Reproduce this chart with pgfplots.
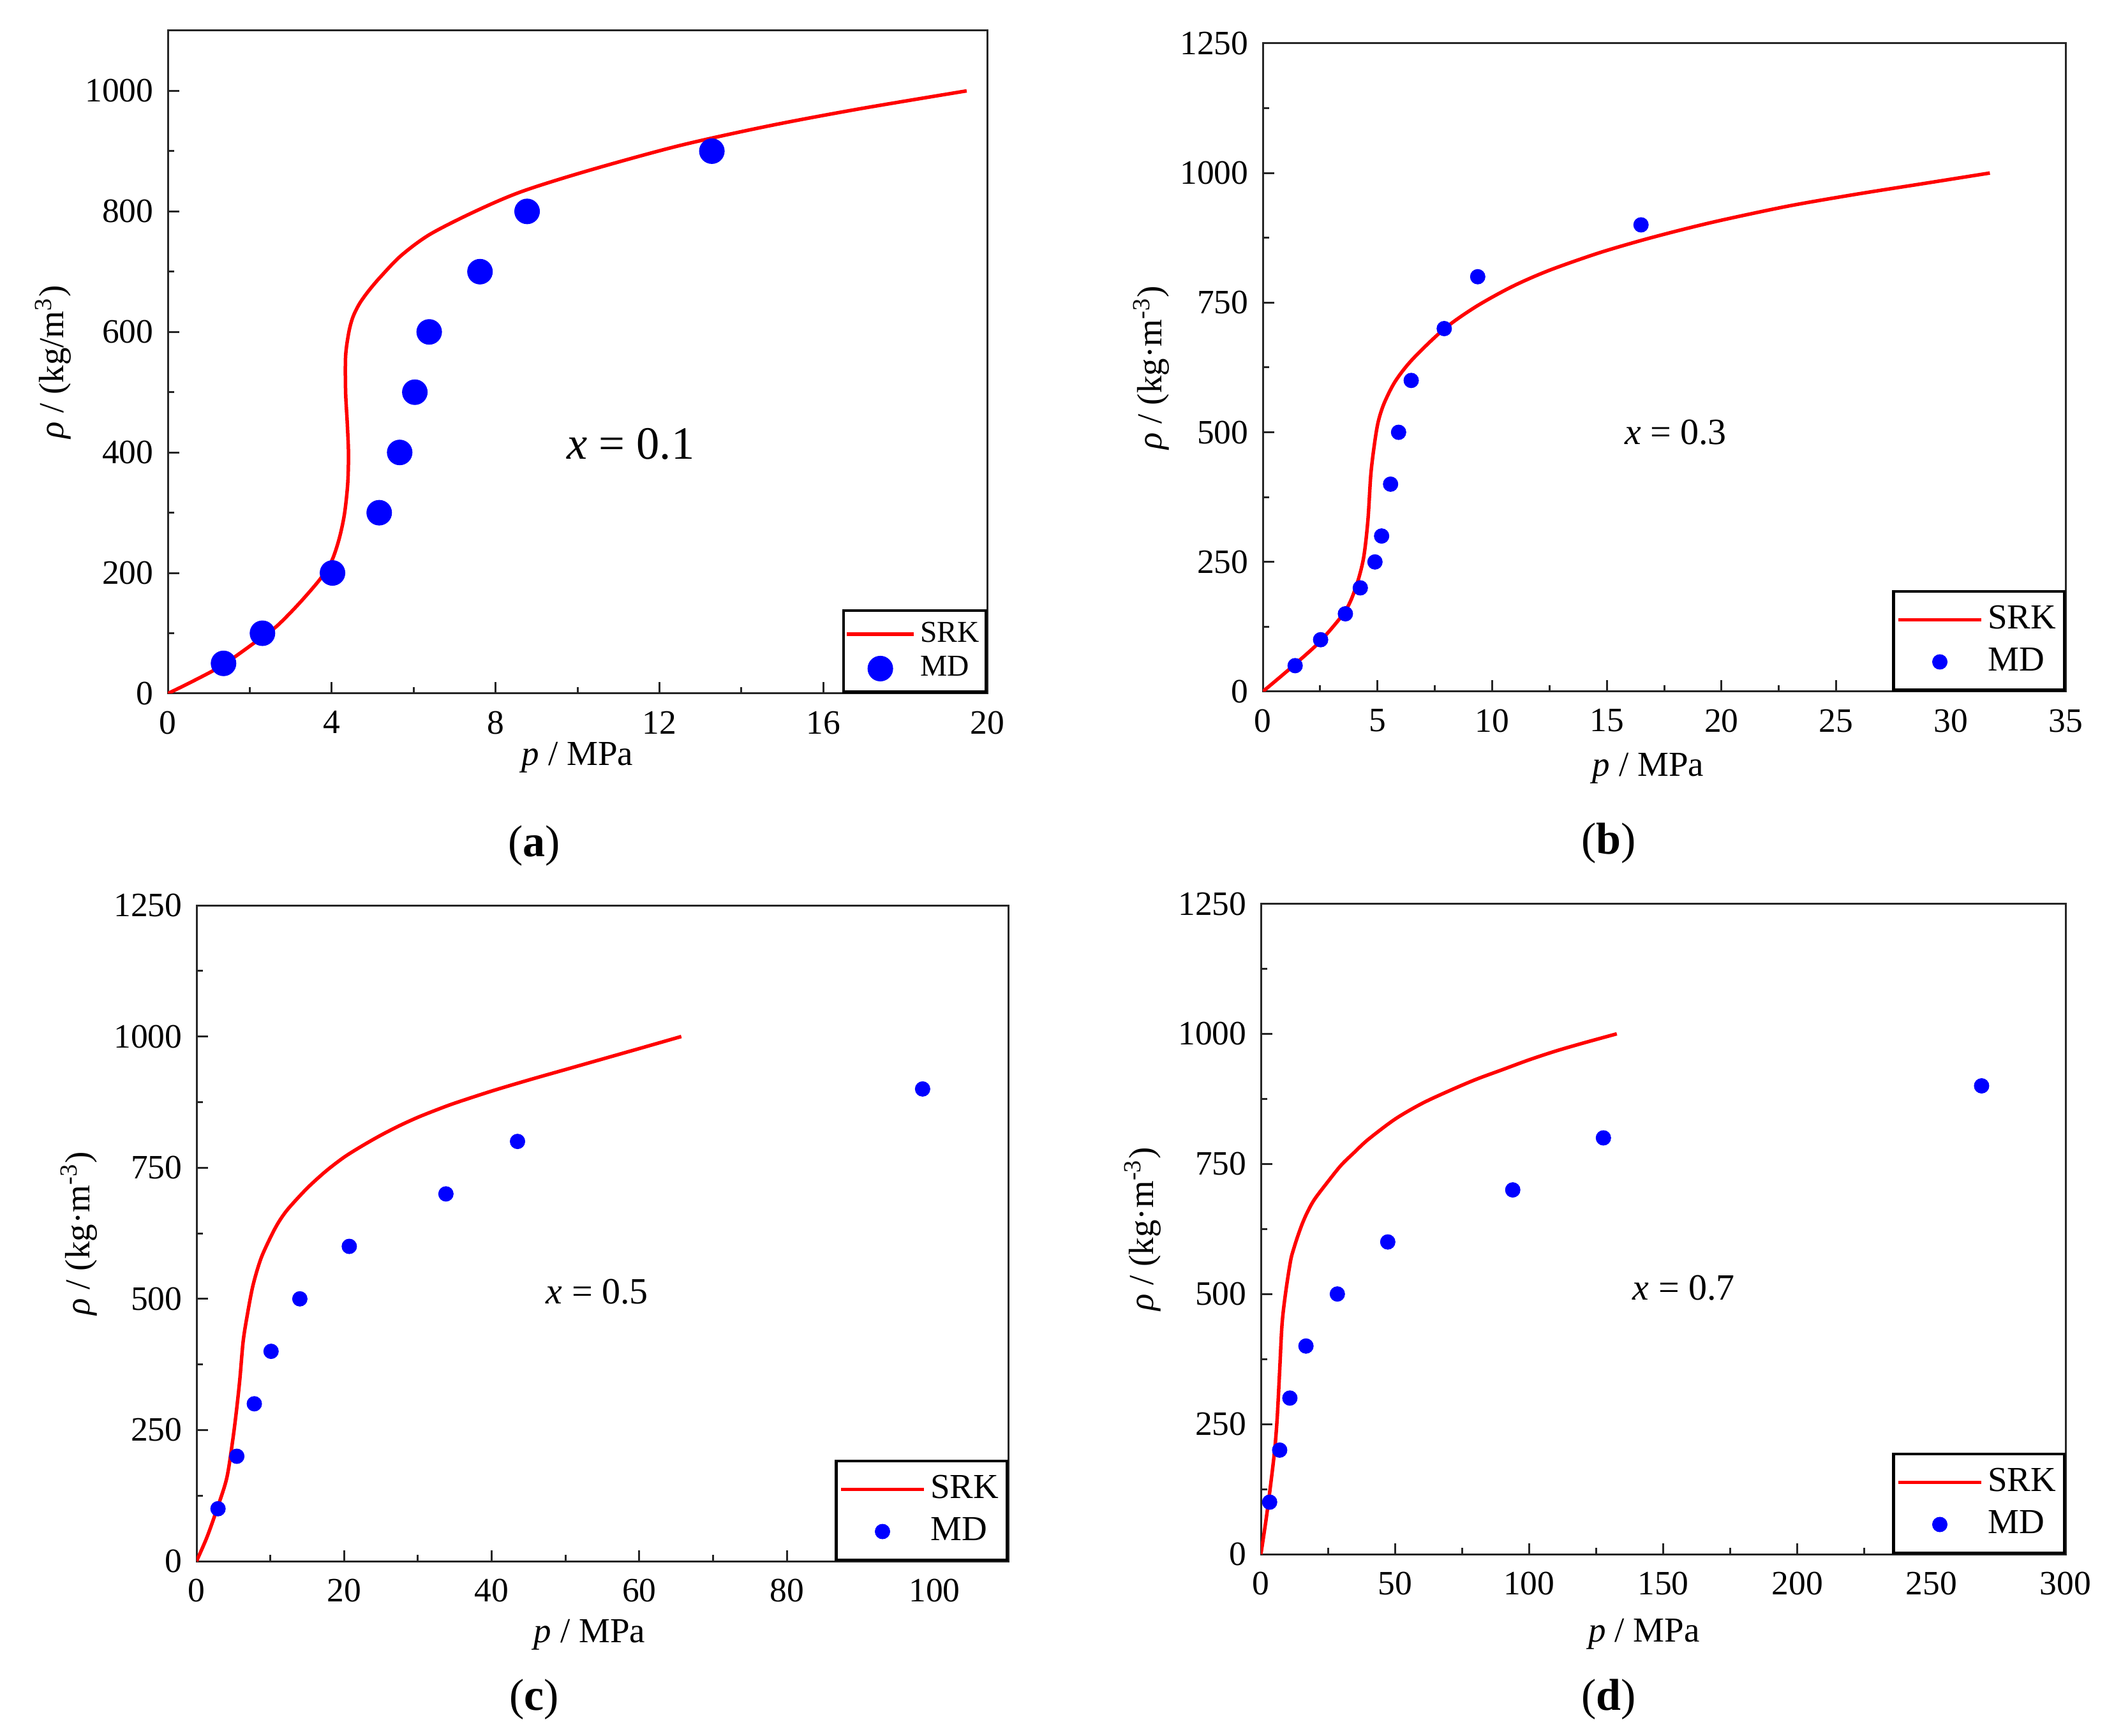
\documentclass[border=0pt]{standalone}
\usepackage{fontspec}
\setmainfont{Liberation Serif}
\usepackage{pgfplots}
\pgfplotsset{compat=1.18}

\pgfplotsset{
  myax/.style={
    scale only axis,
    axis line style={black!85, line width=0.6pt},
    tick align=inside,
    xtick pos=bottom, ytick pos=left,
    major tick length=3.5pt, minor tick length=2pt,
    every tick/.style={black!85, line width=0.6pt},
    minor x tick num=1, minor y tick num=1,
    ticklabel style={font=\fontsize{10.7}{12}\selectfont},
    xticklabel style={yshift=-2pt},
    yticklabel style={xshift=-1pt},
    /pgf/number format/assume math mode=true,
    /pgf/number format/1000 sep={},
    label style={font=\fontsize{11}{13}\selectfont},
    xlabel={\textit{p} / MPa},
    ylabel={\textit{ρ} / (kg·m\textsuperscript{-3})},
    ymin=0, ymax=1250, ytick={0,250,...,1250},
    legend cell align=left,
    legend style={at={(1,0)}, anchor=south east, draw=black, line width=0.9pt,
      fill=white, font=\fontsize{11}{13}\selectfont, inner xsep=1pt, inner ysep=3pt,
      row sep=1.5pt, nodes={inner sep=1.5pt}},
  },
  srk/.style={red, line width=1.1pt, smooth,
    legend image code/.code={\draw[red, line width=1.1pt] (0pt,0pt) -- (26pt,0pt);}},
  md/.style={only marks, mark=*, blue, mark size=2.3pt,
    mark options={fill=blue, draw=blue, line width=0.2pt},
    legend image code/.code={\draw[mark repeat=2, mark phase=2, #1] plot coordinates {(0pt,0pt) (13pt,0pt) (26pt,0pt)};}},
}

\begin{document}
\begin{tikzpicture}
\path[use as bounding box] (0,0) rectangle (660.4pt,544pt);

% (a)
\begin{axis}[myax, at={(52.6pt,326.6pt)}, anchor=south west,
  width=256.8pt, height=207.8pt,
  xmin=0, xmax=20, xtick={0,4,...,20},
  ymin=0, ymax=1100, ytick={0,200,...,1000},
  ylabel={\textit{ρ} / (kg/m\textsuperscript{3})},
  xlabel style={at={(axis description cs:0.5,0)}, anchor=center, yshift=-20pt},
  ylabel style={at={(axis description cs:-0.14,0.5)}, anchor=center},
  legend style={font=\fontsize{9.5}{11}\selectfont, row sep=0pt, inner ysep=2pt, inner xsep=0.5pt},
  srk/.append style={legend image code/.code={\draw[red, line width=1.1pt] (0pt,0pt) -- (21pt,0pt);}},
  md/.append style={legend image code/.code={\draw[mark repeat=2, mark phase=2, #1] plot coordinates {(0pt,0pt) (10.5pt,0pt) (21pt,0pt)};}},
]
\addplot[srk] coordinates {
 (0,0) (0.6,20) (1.36,48) (2.31,94) (2.68,113) (3.2,149) (3.72,190) (4.0,220)
 (4.18,256) (4.31,297) (4.39,347) (4.41,398) (4.38,449) (4.34,500) (4.34,560)
 (4.42,600) (4.52,625) (4.68,647) (4.9,668) (5.2,692) (5.7,727) (6.4,762) (7.5,800)
 (8.64,833) (10.28,868) (12.48,909) (14.68,942) (16.87,970) (19.5,1000)};
\addlegendentry{SRK}
\addplot[md, mark size=3.9pt] coordinates {
 (1.36,50) (2.31,100) (4.02,200) (5.16,300) (5.66,400) (6.03,500) (6.38,600)
 (7.62,700) (8.77,800) (13.28,900)};
\addlegendentry{MD}
\node at (axis cs:11.3,414) {\fontsize{14.5}{16}\selectfont\textit{x} = 0.1};
\end{axis}

% (b)
\begin{axis}[myax, at={(395.8pt,327.2pt)}, anchor=south west,
  width=251.6pt, height=203.2pt,
  xmin=0, xmax=35, xtick={0,5,...,35},
  xlabel style={at={(axis description cs:0.5,0)}, anchor=center, yshift=-24pt, xshift=-5pt},
  ylabel style={at={(axis description cs:-0.139,0.5)}, anchor=center},
]
\addplot[srk] coordinates {
 (0,0) (0.78,29) (1.41,53) (2.5,97) (3.59,155) (4.07,203) (4.39,257) (4.58,329)
 (4.71,419) (4.87,478) (5.03,520) (5.29,556) (5.77,598) (6.51,640) (7.9,699)
 (9.28,742) (10.87,781) (12.47,812) (14.59,845) (16.5,870) (18.3,891) (20.1,910)
 (23,937) (26,960) (29,981) (31.7,1000)};
\addlegendentry{SRK}
\addplot[md] coordinates {
 (1.41,50) (2.52,100) (3.6,150) (4.25,200) (4.89,250) (5.18,300) (5.57,400)
 (5.92,500) (6.47,600) (7.91,700) (9.37,800) (16.49,900)};
\addlegendentry{MD}
\node at (axis cs:18,500) {\fontsize{11.6}{13}\selectfont\textit{x} = 0.3};
\end{axis}

% (c)
\begin{axis}[myax, at={(61.6pt,54.6pt)}, anchor=south west,
  width=254.4pt, height=205.6pt,
  xmin=0, xmax=110, xtick={0,20,...,100},
  xlabel style={at={(axis description cs:0.5,0)}, anchor=center, yshift=-23pt, xshift=-4pt},
  ylabel style={at={(axis description cs:-0.145,0.5)}, anchor=center},
]
\addplot[srk] coordinates {
 (0,0) (1.42,46) (2.76,99) (4.09,158) (4.89,229) (5.42,288) (5.87,347) (6.31,418)
 (6.84,466) (7.64,525) (8.76,578) (10.3,625) (11.3,650) (12.5,673) (15,711) (17.5,743)
 (20,770) (22.5,792) (25,812) (27.5,830) (30,846) (32.5,860) (35,873) (40,896)
 (45,917) (50,937) (55,957) (60,977) (65.7,1000)};
\addlegendentry{SRK}
\addplot[md] coordinates {
 (2.91,100) (5.46,200) (7.83,300) (10.1,400) (14.0,500) (20.7,600) (33.8,700)
 (43.5,800) (98.4,900)};
\addlegendentry{MD}
\node at (axis cs:54.3,513) {\fontsize{11.6}{13}\selectfont\textit{x} = 0.5};
\end{axis}

% (d)
\begin{axis}[myax, at={(395.2pt,56.8pt)}, anchor=south west,
  width=252.2pt, height=203.9pt,
  xmin=0, xmax=300, xtick={0,50,...,300},
  xlabel style={at={(axis description cs:0.5,0)}, anchor=center, yshift=-25pt, xshift=-6pt},
  ylabel style={at={(axis description cs:-0.147,0.5)}, anchor=center},
]
\addplot[srk] coordinates {
 (0,0) (2.0,69) (3.81,141) (5.17,202) (6.08,262) (7.0,353) (7.9,443) (9.26,504)
 (11.07,564) (12.3,588) (13.8,612) (15.5,636) (17.4,658) (20,682) (25,716) (30,748)
 (35,773) (40,797) (50,836) (60,866) (70,890) (80,912) (90,931) (100,950) (110,967)
 (120,982) (132.7,1000)};
\addlegendentry{SRK}
\addplot[md] coordinates {
 (3.26,100) (7.0,200) (10.8,300) (16.8,400) (28.5,500) (47.3,600) (93.9,700)
 (127.7,800) (268.7,900)};
\addlegendentry{MD}
\node at (axis cs:157.7,512) {\fontsize{11.6}{13}\selectfont\textit{x} = 0.7};
\end{axis}

\node at (167.4pt,278.8pt) {\fontsize{14}{16}\selectfont(\textbf{a})};
\node at (504.2pt,279.6pt) {\fontsize{14}{16}\selectfont(\textbf{b})};
\node at (167.4pt,11.2pt) {\fontsize{14}{16}\selectfont(\textbf{c})};
\node at (504.2pt,11.2pt) {\fontsize{14}{16}\selectfont(\textbf{d})};
\end{tikzpicture}
\end{document}
